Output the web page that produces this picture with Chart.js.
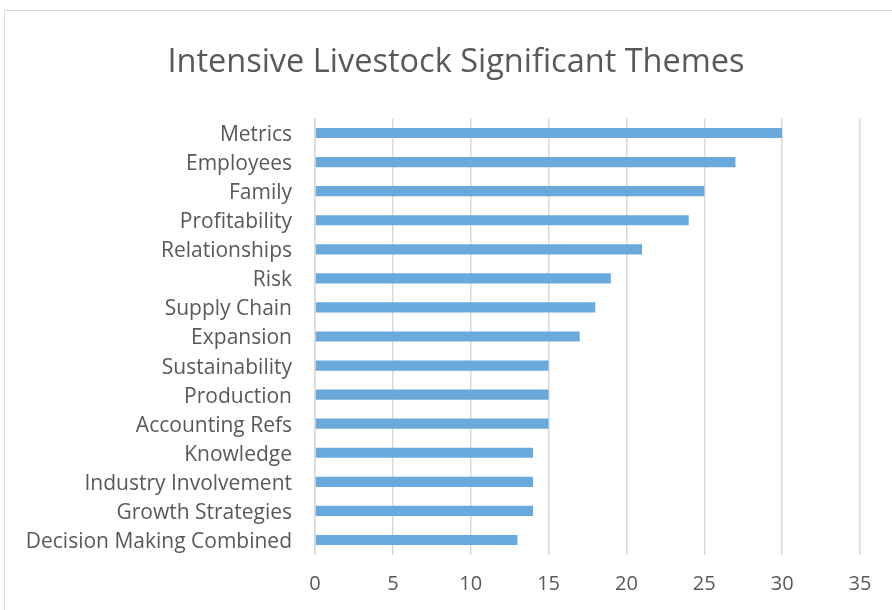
<!DOCTYPE html>
<html>
<head>
<meta charset="utf-8">
<script src="https://cdn.jsdelivr.net/npm/chart.js@4"></script>
<style>
  html, body { margin: 0; padding: 0; background: #ffffff; }
  #wrap { position: relative; width: 892px; height: 610px; overflow: hidden; background: #fff; }
  #frame { position: absolute; left: 4px; top: 10px; width: 1000px; height: 1000px; border: 1px solid #d9d9d9; box-sizing: border-box; }
  canvas { position: absolute; left: 0; top: 0; }
</style>
</head>
<body>
<div id="wrap">
  <div id="frame"></div>
  <canvas id="c" width="892" height="610"></canvas>
</div>
<script>
const chartTitle = "Intensive Livestock Significant Themes";
const categories = ["Metrics", "Employees", "Family", "Profitability", "Relationships", "Risk", "Supply Chain", "Expansion", "Sustainability", "Production", "Accounting Refs", "Knowledge", "Industry Involvement", "Growth Strategies", "Decision Making Combined"];
const values = [30, 27, 25, 24, 21, 19, 18, 17, 15, 15, 15, 14, 14, 14, 13];
const xMin = 0, xMax = 35, xStep = 5;

const fontFamily = "'Open Sans', Lato, sans-serif";
const textColor = "#595959";

new Chart(document.getElementById('c'), {
  type: 'bar',
  data: {
    labels: categories,
    datasets: [{
      data: values,
      backgroundColor: '#6AA9DC',
      borderWidth: 0,
      categoryPercentage: 1.0,
      barPercentage: 0.35,
      yAxisID: 'y'
    }]
  },
  options: {
    indexAxis: 'y',
    responsive: false,
    animation: false,
    devicePixelRatio: 1,
    layout: { padding: { left: 20, right: 0, top: 0, bottom: 0 } },
    plugins: {
      legend: { display: false },
      tooltip: { enabled: false },
      title: {
        display: true,
        text: chartTitle,
        color: textColor,
        font: { family: fontFamily, size: 32.5, weight: 'normal' },
        padding: { top: 43, bottom: 36.5 }
      }
    },
    scales: {
      x: {
        min: xMin, max: xMax,
        ticks: { stepSize: xStep, color: textColor, font: { family: fontFamily, size: 20 }, padding: 18 },
        grid: { color: '#d9d9d9', lineWidth: 1.5, drawTicks: false },
        border: { display: false },
        afterFit: (s) => { s.height = 55.5; }
      },
      y: {
        ticks: { color: textColor, font: { family: fontFamily, size: 21 }, padding: 23, autoSkip: false, labelOffset: 2 },
        grid: { display: false, drawTicks: false },
        border: { display: true, color: '#d9d9d9', width: 1.5 },
        afterFit: (s) => { s.width = 295; }
      },
      yRight: {
        type: 'linear',
        position: 'right',
        display: true,
        ticks: { display: false },
        grid: { display: false, drawTicks: false },
        border: { display: false },
        afterFit: (s) => { s.width = 32; }
      }
    }
  }
});
</script>
</body>
</html>
